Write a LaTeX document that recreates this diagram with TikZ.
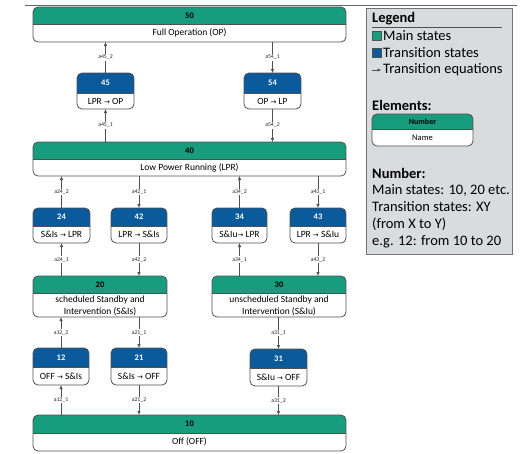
\documentclass[tikz,border=0pt]{standalone}
\usepackage{fontspec}
\setmainfont{Carlito}
\newfontfamily\djv{DejaVu Sans}
\usetikzlibrary{arrows.meta}
\definecolor{mgreen}{HTML}{179C7D}
\definecolor{tblue}{HTML}{0A5A9C}
\definecolor{bord}{HTML}{505050}
\definecolor{legbg}{HTML}{D9DCDC}
\newcommand\ra{{\djv\fontsize{7}{8}\selectfont →}}
\tikzset{
 sbox/.style={draw=bord, line width=0.8pt, rounded corners=5pt, fill=white, inner sep=0pt, outer sep=0pt},
 numtxt/.style={font=\fontsize{8.5}{10}\selectfont\bfseries, inner sep=0pt},
 nametxt/.style={font=\fontsize{9.5}{12}\selectfont, align=center, inner sep=0pt},
 conn/.style={draw=bord, line width=0.6pt, -{Latex[length=4pt,width=3.4pt]}},
 lbl/.style={font=\fontsize{5.8}{6}\selectfont, fill=white, inner sep=0.8pt, text=black!85},
 legtxt/.style={font=\fontsize{14.5}{16}\selectfont, anchor=west, inner sep=0pt},
 legbold/.style={legtxt, font=\fontsize{14.5}{16}\selectfont\bfseries},
}
% x1 y1 x2 y2 split fill numcolor number
\newcommand\stbox[8]{%
 \pgfmathsetmacro\bw{#3-#1}\pgfmathsetmacro\bh{#4-#2}\pgfmathsetmacro\hh{#5-#2}%
 \node[sbox, minimum width=\bw pt, minimum height=\bh pt,
   path picture={\fill[#6, sharp corners] (path picture bounding box.north west) rectangle ([yshift=-\hh pt]path picture bounding box.north east);
     \draw[bord, line width=0.4pt, sharp corners] ([yshift=-\hh pt]path picture bounding box.north west) -- ([yshift=-\hh pt]path picture bounding box.north east);}]
   (s#8) at ({(#1+#3)/2},{(#2+#4)/2}) {};
 \node[numtxt, text=#7] (s#8num) at ({(#1+#3)/2},{(#2+#5)/2}) {#8};
}
\newcommand\stname[4]{\node[nametxt] (#1name) at ({(#2)},{(#3)}) {#4};}
\begin{document}
\begin{tikzpicture}[x=1pt,y=-1pt]
\useasboundingbox (0,0) rectangle (526,453);
\draw[line width=1pt, black!60] (25,5.5) -- (517,5.5);

% main states
\stbox{33}{7}{346}{42}{24}{mgreen}{black}{50}
\stname{s50}{189.5}{33}{Full Operation (OP)}
\stbox{33}{142}{346}{176}{159}{mgreen}{black}{40}
\stname{s40}{189.5}{167.5}{Low Power Running (LPR)}
\stbox{33}{276}{167}{317}{293}{mgreen}{black}{20}
\stname{s20}{100}{305.5}{scheduled Standby and\\Intervention (S\&Is)}
\stbox{212}{276}{346}{317}{293}{mgreen}{black}{30}
\stname{s30}{279}{305.5}{unscheduled Standby and\\Intervention (S\&Iu)}
\stbox{33}{415}{346}{451}{433}{mgreen}{black}{10}
\stname{s10}{189.5}{442}{Off (OFF)}

% transition states
\stbox{77}{73}{134}{109}{93}{tblue}{white}{45}
\stname{s45}{105.5}{101}{LPR \ra{} OP}
\stbox{244}{73}{301}{109}{93}{tblue}{white}{54}
\stname{s54}{272.5}{101}{OP \ra{} LP}
\stbox{33}{208}{90}{243}{226}{tblue}{white}{24}
\stname{s24}{61.5}{234.5}{S\&Is \ra{} LPR}
\stbox{111}{208}{167}{243}{226}{tblue}{white}{42}
\stname{s42}{139}{234.5}{LPR \ra{} S\&Is}
\stbox{212}{208}{267}{243}{226}{tblue}{white}{34}
\stname{s34}{239.5}{234.5}{S\&Iu\ra{} LPR}
\stbox{290}{208}{346}{243}{226}{tblue}{white}{43}
\stname{s43}{318}{234.5}{LPR \ra{} S\&Iu}
\stbox{33}{348}{89}{385}{367}{tblue}{white}{12}
\stname{s12}{61}{376}{OFF \ra{} S\&Is}
\stbox{111}{348}{167}{385}{367}{tblue}{white}{21}
\stname{s21}{139}{376}{S\&Is \ra{} OFF}
\stbox{250}{349}{307}{386}{368}{tblue}{white}{31}
\stname{s31}{278.5}{377}{S\&Iu \ra{} OFF}

% connectors
\draw[conn] (s40.north -| s45.south) -- node[lbl]{a45\_1} (s45.south);
\draw[conn] (s45.north) -- node[lbl]{a45\_2} (s50.south -| s45.north);
\draw[conn] (s50.south -| s54.north) -- node[lbl]{a54\_1} (s54.north);
\draw[conn] (s54.south) -- node[lbl]{a54\_2} (s40.north -| s54.south);
\draw[conn] (s20.north -| s24.south) -- node[lbl]{a24\_1} (s24.south);
\draw[conn] (s24.north) -- node[lbl]{a24\_2} (s40.south -| s24.north);
\draw[conn] (s40.south -| s42.north) -- node[lbl]{a42\_1} (s42.north);
\draw[conn] (s42.south) -- node[lbl]{a42\_2} (s20.north -| s42.south);
\draw[conn] (s30.north -| s34.south) -- node[lbl]{a34\_1} (s34.south);
\draw[conn] (s34.north) -- node[lbl]{a34\_2} (s40.south -| s34.north);
\draw[conn] (s40.south -| s43.north) -- node[lbl]{a43\_1} (s43.north);
\draw[conn] (s43.south) -- node[lbl]{a43\_2} (s30.north -| s43.south);
\draw[conn] (s10.north -| s12.south) -- node[lbl]{a12\_1} (s12.south);
\draw[conn] (s12.north) -- node[lbl]{a12\_2} (s20.south -| s12.north);
\draw[conn] (s20.south -| s21.north) -- node[lbl]{a21\_1} (s21.north);
\draw[conn] (s21.south) -- node[lbl]{a21\_2} (s10.north -| s21.south);
\draw[conn] (s30.south -| s31.north) -- node[lbl]{a31\_1} (s31.north);
\draw[conn] (s31.south) -- node[lbl]{a31\_2} (s10.north -| s31.south);

% legend
\node[draw=black!55, line width=0.7pt, fill=legbg, minimum width=146pt, minimum height=246pt, inner sep=0pt, anchor=north west] (leg) at (366,8) {};
\node[legbold] (legtitle) at (372,19) {Legend};
\draw[bord, line width=1.3pt] (372,27.5) -- (502,27.5);
\draw[bord, line width=0.5pt, fill=mgreen] (372.5,31.5) rectangle (381,40);
\node[legtxt] (legmain) at (383,36) {Main states};
\draw[bord, line width=0.5pt, fill=tblue] (372.5,48.5) rectangle (381,57);
\node[legtxt] (legtrans) at (383,53) {Transition states};
\draw[conn, line width=0.8pt] (372,70) -- (381.5,70);
\node[legtxt] (legeq) at (383,70) {Transition equations};
\node[legbold] (legel) at (372,105) {Elements:};
\node[sbox, minimum width=101pt, minimum height=32pt,
  path picture={\fill[mgreen, sharp corners] (path picture bounding box.north west) rectangle ([yshift=-15pt]path picture bounding box.north east);
   \draw[bord, line width=0.4pt, sharp corners] ([yshift=-15pt]path picture bounding box.north west) -- ([yshift=-15pt]path picture bounding box.north east);}]
  (elbox) at (422.5,130) {};
\node[numtxt, font=\fontsize{8}{9}\selectfont\bfseries] (elnum) at (422.5,121.5) {Number};
\node[nametxt, font=\fontsize{8.5}{9}\selectfont] (elname) at (422.5,137.5) {Name};
\node[legbold] (legnum) at (372,173) {Number:};
\node[legtxt] (l1) at (372,190) {Main states: 10, 20 etc.};
\node[legtxt] (l2) at (372,207) {Transition states: XY};
\node[legtxt] (l3) at (372,224) {(from X to Y)};
\node[legtxt] (l4) at (372,241.5) {e.g. 12: from 10 to 20};
\end{tikzpicture}
\end{document}
